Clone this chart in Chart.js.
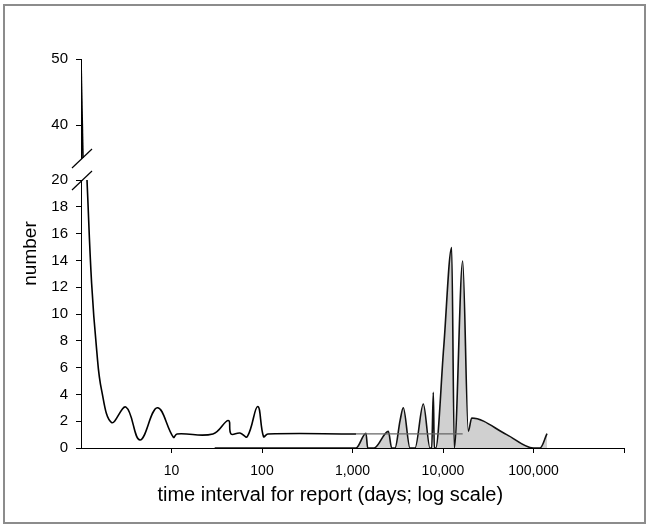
<!DOCTYPE html>
<html>
<head>
<meta charset="utf-8">
<script src="https://cdn.jsdelivr.net/npm/chart.js@4.4.0/dist/chart.umd.min.js"></script>
<style>
  html, body { margin: 0; padding: 0; background: #fff; }
  #wrap { position: relative; width: 649px; height: 528px; }
  #frame { position: absolute; left: 3px; top: 4px; width: 639px; height: 516px; border: 2px solid #8c8c8c; pointer-events: none; }
  canvas { position: absolute; left: 0; top: 0; }
</style>
</head>
<body>
<div id="wrap">
  <canvas id="chart" width="649" height="528"></canvas>
  <div id="frame"></div>
</div>
<script>
// axis ticks
const xTicks = [10, 100, 1000, 10000, 100000, 1000000];
const xTickLabels = ['10', '100', '1,000', '10,000', '100,000', ''];
const topTicks = [40, 50];

// part of the curve above the axis break
const upperX = [1, 1.052];
const upperY = [50, 35];

// black smoothed line below the break
const lineX = [1.165, 1.31, 1.49, 1.69, 2.18, 3.14, 4.49, 6.97, 10.5, 11.5, 28.7, 42.4, 45.5, 57, 68.8, 89.6, 104, 116, 1093, 16500];
const lineY = [20, 12.3, 7.3, 4.3, 1.9, 3.05, 0.6, 3.0, 0.8, 1.05, 1.05, 2.05, 1.05, 1.12, 0.85, 3.1, 0.85, 1.05, 1.05, 1.05];

// grey filled series
const areaX = [30, 1093, 1409, 1472, 1729, 2489, 2711, 2950, 3350, 3642, 4318, 4909, 6058, 7183, 7504, 7816, 8016, 8305, 10180, 12470, 13330, 16500, 19040, 20770, 50550, 99500, 118000, 141000];
const areaY = [0, 0, 1.1, 0, 0, 1.24, 0, 0, 2.03, 3.0, 0, 0, 3.28, 0, 0, 4.15, 0, 0, 7.5, 14.95, 0, 13.96, 1.25, 2.24, 1.0, 0, 0, 1.07];

const pts = (xs, ys) => xs.map((x, i) => ({x: x, y: ys[i]}));

Chart.defaults.font.family = '"Liberation Sans", Arial, sans-serif';
Chart.defaults.color = '#000';

// the two slashes on the y axis
const axisBreak = {
  id: 'axisBreak',
  afterDraw(chart) {
    const ctx = chart.ctx;
    const x = chart.chartArea.left;
    const ys = [chart.scales.yTop.bottom, chart.scales.y.top];
    ctx.save();
    ctx.strokeStyle = '#000';
    ctx.lineWidth = 1.2;
    ys.forEach(yb => {
      ctx.beginPath();
      ctx.moveTo(x - 9, yb + 10);
      ctx.lineTo(x + 11, yb - 9);
      ctx.stroke();
    });
    ctx.restore();
  }
};

const yCommon = {
  type: 'linear',
  position: 'left',
  stack: 'num',
  grid: { drawOnChartArea: false, tickLength: 5, color: '#000' },
  border: { color: '#000', width: 1 },
  ticks: { autoSkip: false, padding: 8, color: '#000', font: { size: 15 } },
  afterFit: s => { s.width = 30; }
};

new Chart(document.getElementById('chart'), {
  type: 'line',
  data: {
    datasets: [{
      label: 'line',
      data: pts(lineX, lineY),
      yAxisID: 'y',
      borderColor: '#000',
      borderWidth: 1.6,
      tension: 0.4,
      pointRadius: 0,
      fill: false,
      segment: {
        borderColor: c => c.p0.parsed.x >= 1000 ? '#666' : '#000',
        borderWidth: c => c.p0.parsed.x >= 1000 ? 1.2 : 1.6
      }
    }, {
      label: 'upper',
      data: pts(upperX, upperY),
      yAxisID: 'yTop',
      borderColor: '#000',
      borderWidth: 1.6,
      tension: 0,
      pointRadius: 0,
      fill: false
    }, {
      label: 'area',
      data: pts(areaX, areaY),
      yAxisID: 'y',
      borderColor: '#111',
      borderWidth: 1.6,
      backgroundColor: '#d0d0d0',
      fill: 'origin',
      cubicInterpolationMode: 'monotone',
      pointRadius: 0
    }]
  },
  options: {
    responsive: false,
    animation: false,
    devicePixelRatio: 1,
    layout: { padding: { left: 15, right: 25, top: 59, bottom: 21 } },
    plugins: { legend: { display: false }, tooltip: { enabled: false } },
    scales: {
      x: {
        type: 'logarithmic',
        position: 'bottom',
        min: 1,
        max: 1000000,
        afterBuildTicks: s => { s.ticks = xTicks.map(v => ({ value: v })); },
        afterFit: s => { s.height = 59; },
        ticks: {
          autoSkip: false, maxRotation: 0, padding: 10, color: '#000', font: { size: 14 },
          callback: (v, i) => xTickLabels[i]
        },
        grid: { drawOnChartArea: false, tickLength: 5, color: '#000' },
        border: { color: '#000', width: 1 },
        title: {
          display: true,
          // trailing no-break spaces shift the centred title left, as in the original
          text: 'time interval for report (days; log scale)' + '\u00a0'.repeat(8),
          color: '#000', font: { size: 20 }, padding: { top: 4, bottom: 0 }
        }
      },
      y: Object.assign({}, yCommon, {
        stackWeight: 268, min: 0, max: 20,
        ticks: Object.assign({}, yCommon.ticks, { stepSize: 2 })
      }),
      yGap: Object.assign({}, yCommon, { stackWeight: 22, display: false }),
      yTop: Object.assign({}, yCommon, {
        stackWeight: 99, min: 35, max: 50,
        afterBuildTicks: s => { s.ticks = topTicks.map(v => ({ value: v })); },
        ticks: Object.assign({}, yCommon.ticks, { callback: v => String(v) })
      }),
      yName: {
        type: 'linear',
        position: 'left',
        ticks: { display: false },
        grid: { display: false },
        border: { display: false },
        title: { display: true, text: 'number', color: '#000', font: { size: 19 }, padding: { top: 4, bottom: 0 } },
        afterFit: s => { s.width = 36; }
      }
    }
  },
  plugins: [axisBreak]
});
</script>
</body>
</html>
